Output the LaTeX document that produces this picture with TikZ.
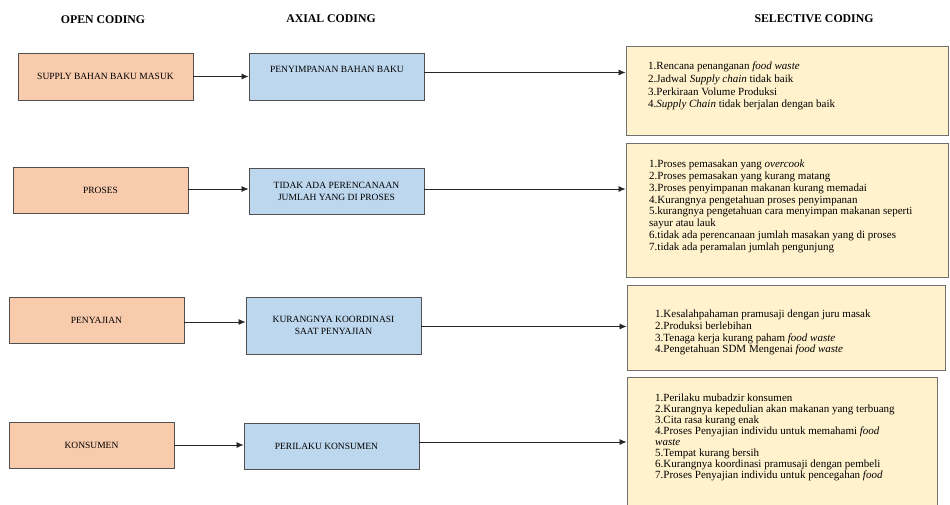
\documentclass[tikz,border=0pt]{standalone}
\usepackage{fontspec}
\setmainfont{Liberation Serif}
\usetikzlibrary{arrows.meta}
\definecolor{orfill}{HTML}{F8CBAD}
\definecolor{blfill}{HTML}{BDD7EE}
\definecolor{yefill}{HTML}{FFF2CC}
\definecolor{bordc}{HTML}{505050}
\definecolor{ybord}{HTML}{707070}
\tikzset{
  box/.style={draw=bordc, line width=0.9pt, inner sep=0pt, minimum width=175pt, align=center,
    font=\fontsize{9.5}{12}\selectfont},
  obox/.style={box, fill=orfill},
  bbox/.style={box, fill=blfill},
  ybox/.style={draw=ybord, line width=0.9pt, fill=yefill, inner sep=0pt},
  ytext/.style={anchor=north west, inner sep=0pt, align=left},
  head/.style={font=\fontsize{11.8}{13}\selectfont\bfseries},
  arr/.style={draw=black!85, line width=0.8pt, -{Latex[length=7pt,width=6pt]}}
}
\begin{document}
\begin{tikzpicture}[x=1pt,y=-1pt]
\useasboundingbox (0,0) rectangle (950,504);
\fill[white] (0,0) rectangle (950,504);
% headers
\node[head] (h1) at (103,20) {OPEN CODING};
\node[head] (h2) at (331,19) {AXIAL CODING};
\node[head] (h3) at (814,19) {SELECTIVE CODING};
% open coding boxes
\node[obox, minimum height=47pt] (o1) at (105.5,76.5) {SUPPLY BAHAN BAKU MASUK};
\node[obox, minimum height=46pt] (o2) at (100.5,190) {PROSES};
\node[obox, minimum height=46pt] (o3) at (96.5,320) {PENYAJIAN};
\node[obox, minimum height=46pt, minimum width=165pt] (o4) at (91.5,445) {KONSUMEN};
% axial coding boxes
\node[bbox, minimum height=47pt] (b1) at (336.5,76.5) {};
\node[font=\fontsize{9.5}{12}\selectfont, inner sep=0pt] (b1t) at (337,69) {PENYIMPANAN BAHAN BAKU};
\node[bbox, minimum height=46pt] (b2) at (336.5,191) {TIDAK ADA PERENCANAAN\\JUMLAH YANG DI PROSES};
\node[bbox, minimum height=57pt] (b3) at (333.5,325.5) {KURANGNYA KOORDINASI\\SAAT PENYAJIAN};
\node[bbox, minimum height=46pt] (b4) at (331.5,446) {\hspace*{-10pt}PERILAKU KONSUMEN};
% selective coding boxes
\node[ybox, minimum width=322pt, minimum height=89pt] (y1) at (787,90.5) {};
\node[ybox, minimum width=322pt, minimum height=134pt] (y2) at (787,210) {};
\node[ybox, minimum width=318pt, minimum height=85pt] (y3) at (786,327.5) {};
\node[ybox, minimum width=310pt, minimum height=140pt] (y4) at (782,447) {};
% selective texts
\node[ytext, font=\fontsize{11}{12.6}\selectfont] (t1) at (648,62) {%
1.Rencana penanganan \textit{food waste}\\
2.Jadwal \textit{Supply chain} tidak baik\\
3.Perkiraan Volume Produksi\\
4.\textit{Supply Chain} tidak berjalan dengan baik};
\node[ytext, font=\fontsize{11}{11.9}\selectfont] (t2) at (649,159.5) {%
1.Proses pemasakan yang \textit{overcook}\\
2.Proses pemasakan yang kurang matang\\
3.Proses penyimpanan makanan kurang memadai\\
4.Kurangnya pengetahuan proses penyimpanan\\
5.kurangnya pengetahuan cara menyimpan makanan seperti\\
sayur atau lauk\\
6.tidak ada perencanaan jumlah masakan yang di proses\\
7.tidak ada peramalan jumlah pengunjung};
\node[ytext, font=\fontsize{11}{11.7}\selectfont] (t3) at (655,310) {%
1.Kesalahpahaman pramusaji dengan juru masak\\
2.Produksi berlebihan\\
3.Tenaga kerja kurang paham \textit{food waste}\\
4.Pengetahuan SDM Mengenai \textit{food waste}};
\node[ytext, font=\fontsize{11}{10.9}\selectfont] (t4) at (655,394) {%
1.Perilaku mubadzir konsumen\\
2.Kurangnya kepedulian akan makanan yang terbuang\\
3.Cita rasa kurang enak\\
4.Proses Penyajian individu untuk memahami \textit{food}\\
\textit{waste}\\
5.Tempat kurang bersih\\
6.Kurangnya koordinasi pramusaji dengan pembeli\\
7.Proses Penyajian individu untuk pencegahan \textit{food}};
% arrows
\draw[arr] (o1.east) -- (o1.east -| b1.west);
\draw[arr] ([yshift=4pt]b1.east) -- ([yshift=4pt]b1.east -| y1.west);
\draw[arr] ([yshift=1pt]o2.east) -- ([yshift=1pt]o2.east -| b2.west);
\draw[arr] ([yshift=2pt]b2.east) -- ([yshift=2pt]b2.east -| y2.west);
\draw[arr] ([yshift=-2pt]o3.east) -- ([yshift=-2pt]o3.east -| b3.west);
\draw[arr] ([yshift=-1pt]b3.east) -- ([yshift=-1pt]b3.east -| y3.west);
\draw[arr] (o4.east) -- (o4.east -| b4.west);
\draw[arr] ([yshift=4pt]b4.east) -- ([yshift=4pt]b4.east -| y4.west);
\end{tikzpicture}
\end{document}
